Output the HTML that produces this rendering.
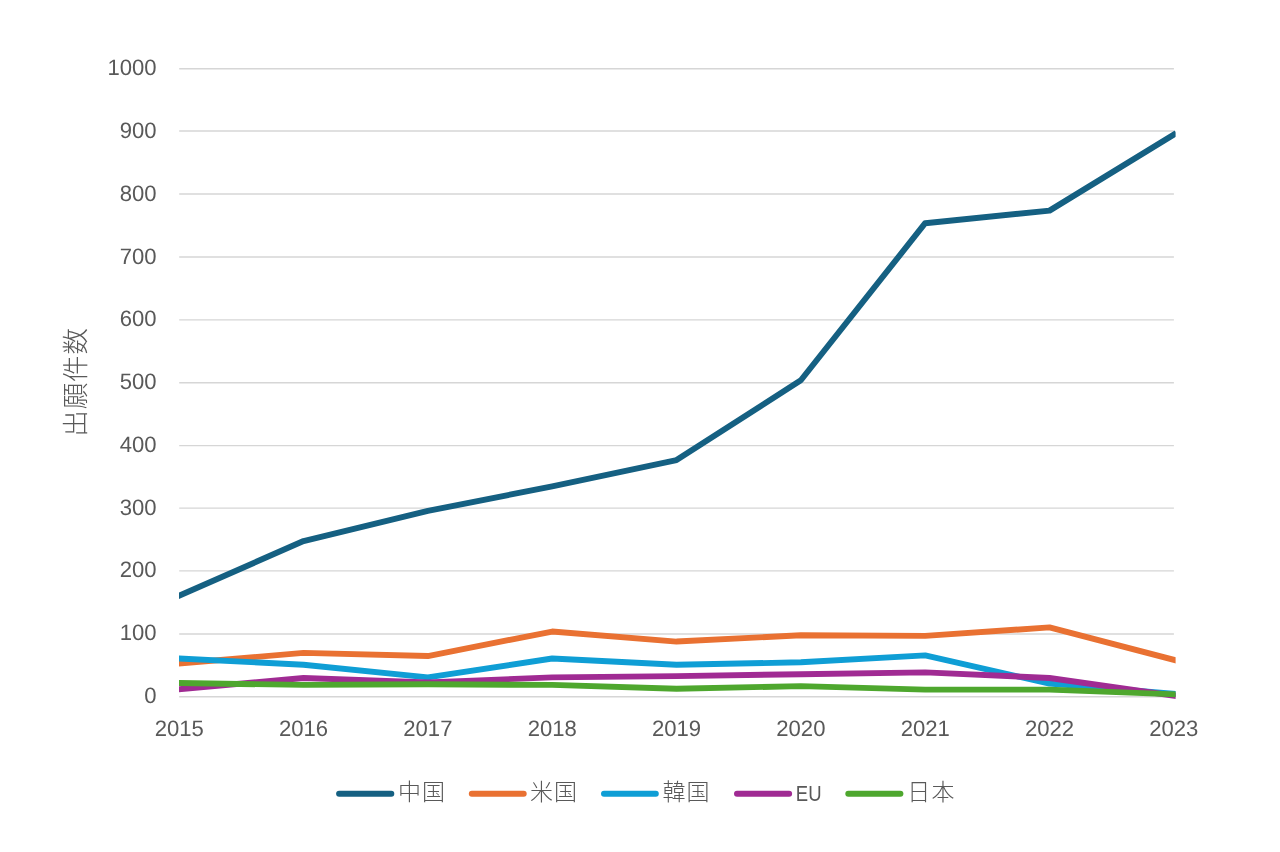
<!DOCTYPE html>
<html lang="ja">
<head>
<meta charset="utf-8">
<title>出願件数</title>
<style>
html,body{margin:0;padding:0;background:#fff;}
body{width:1280px;height:852px;overflow:hidden;}
svg{display:block;}
.num{font-family:"Liberation Sans",sans-serif;font-size:22.3px;fill:#595959;text-rendering:geometricPrecision;}
.cjk{font-family:"Liberation Sans","Noto Sans CJK JP",sans-serif;font-weight:300;fill:#595959;}
</style>
</head>
<body>
<svg width="1280" height="852" viewBox="0 0 1280 852">
<rect width="1280" height="852" fill="#ffffff"/>

<g stroke="#D6D6D6" stroke-width="1.4" fill="none">
<line x1="179.2" y1="696.8" x2="1173.9" y2="696.8"/>
<line x1="179.2" y1="634.0" x2="1173.9" y2="634.0"/>
<line x1="179.2" y1="570.9" x2="1173.9" y2="570.9"/>
<line x1="179.2" y1="508.1" x2="1173.9" y2="508.1"/>
<line x1="179.2" y1="445.6" x2="1173.9" y2="445.6"/>
<line x1="179.2" y1="382.8" x2="1173.9" y2="382.8"/>
<line x1="179.2" y1="319.9" x2="1173.9" y2="319.9"/>
<line x1="179.2" y1="256.95" x2="1173.9" y2="256.95"/>
<line x1="179.2" y1="194.0" x2="1173.9" y2="194.0"/>
<line x1="179.2" y1="130.95" x2="1173.9" y2="130.95"/>
<line x1="179.2" y1="68.7" x2="1173.9" y2="68.7"/>
</g>
<g class="num" text-anchor="end">
<text transform="translate(156.5,703) scale(0.99,1)">0</text>
<text transform="translate(156.5,640) scale(0.99,1)">100</text>
<text transform="translate(156.5,577) scale(0.99,1)">200</text>
<text transform="translate(156.5,515) scale(0.99,1)">300</text>
<text transform="translate(156.5,452) scale(0.99,1)">400</text>
<text transform="translate(156.5,389) scale(0.99,1)">500</text>
<text transform="translate(156.5,326) scale(0.99,1)">600</text>
<text transform="translate(156.5,264) scale(0.99,1)">700</text>
<text transform="translate(156.5,201) scale(0.99,1)">800</text>
<text transform="translate(156.5,138) scale(0.99,1)">900</text>
<text transform="translate(156.5,75) scale(0.99,1)">1000</text>
</g>
<g class="num" text-anchor="middle">
<text transform="translate(179.2,736) scale(0.99,1)">2015</text>
<text transform="translate(303.53,736) scale(0.99,1)">2016</text>
<text transform="translate(427.86,736) scale(0.99,1)">2017</text>
<text transform="translate(552.19,736) scale(0.99,1)">2018</text>
<text transform="translate(676.52,736) scale(0.99,1)">2019</text>
<text transform="translate(800.85,736) scale(0.99,1)">2020</text>
<text transform="translate(925.18,736) scale(0.99,1)">2021</text>
<text transform="translate(1049.51,736) scale(0.99,1)">2022</text>
<text transform="translate(1173.84,736) scale(0.99,1)">2023</text>
</g>
<text class="cjk" font-size="26.5" letter-spacing="0.9" text-anchor="middle" transform="translate(84.8,381.9) rotate(-90)">出願件数</text>
<defs><clipPath id="plotclip"><rect x="179" y="40" width="996.6" height="680"/></clipPath></defs>
<g fill="none" stroke-width="5.9" stroke-linejoin="round" stroke-linecap="square" clip-path="url(#plotclip)">
<polyline stroke="#156082" points="179.2,595.71 303.53,541.06 427.86,510.9 552.19,486.4 676.52,460.02 800.85,380.24 925.18,223.19 1049.51,210.62 1173.84,134.61"/>
<polyline stroke="#E97132" points="179.2,663.56 303.53,652.88 427.86,656.02 552.19,631.52 676.52,641.57 800.85,635.29 925.18,635.91 1049.51,627.43 1173.84,659.79"/>
<polyline stroke="#0F9ED5" points="179.2,658.53 303.53,664.81 427.86,677.38 552.19,658.53 676.52,664.81 800.85,662.3 925.18,655.39 1049.51,683.66 1173.84,693.71"/>
<polyline stroke="#A02B93" points="179.2,689.31 303.53,678.0 427.86,682.4 552.19,677.38 676.52,676.12 800.85,674.23 925.18,672.35 1049.51,678.0 1173.84,695.59"/>
<polyline stroke="#4EA72E" points="179.2,683.03 303.53,684.91 427.86,684.29 552.19,684.91 676.52,688.68 800.85,686.17 925.18,689.63 1049.51,689.63 1173.84,694.34"/>
</g>
<g stroke-width="6" stroke-linecap="round">
<line x1="339.1" y1="793.8" x2="391.3" y2="793.8" stroke="#156082"/>
<line x1="471.8" y1="793.8" x2="523.7" y2="793.8" stroke="#E97132"/>
<line x1="604" y1="793.8" x2="655.8" y2="793.8" stroke="#0F9ED5"/>
<line x1="737" y1="793.8" x2="789.1" y2="793.8" stroke="#A02B93"/>
<line x1="848.3" y1="793.8" x2="900.4" y2="793.8" stroke="#4EA72E"/>
</g>
<text class="cjk" font-size="23" letter-spacing="1.1" x="397.9" y="800.4">中国</text>
<text class="cjk" font-size="23" letter-spacing="1.1" x="530.0" y="800.4">米国</text>
<text class="cjk" font-size="23" letter-spacing="1.1" x="662.5" y="800.4">韓国</text>
<text x="795.85" y="800.5" font-family="Liberation Sans, sans-serif" font-size="22" fill="#595959" textLength="25.7" lengthAdjust="spacingAndGlyphs">EU</text>
<text class="cjk" font-size="23" letter-spacing="1.1" x="907.3" y="800.4">日本</text>
</svg>
</body>
</html>
